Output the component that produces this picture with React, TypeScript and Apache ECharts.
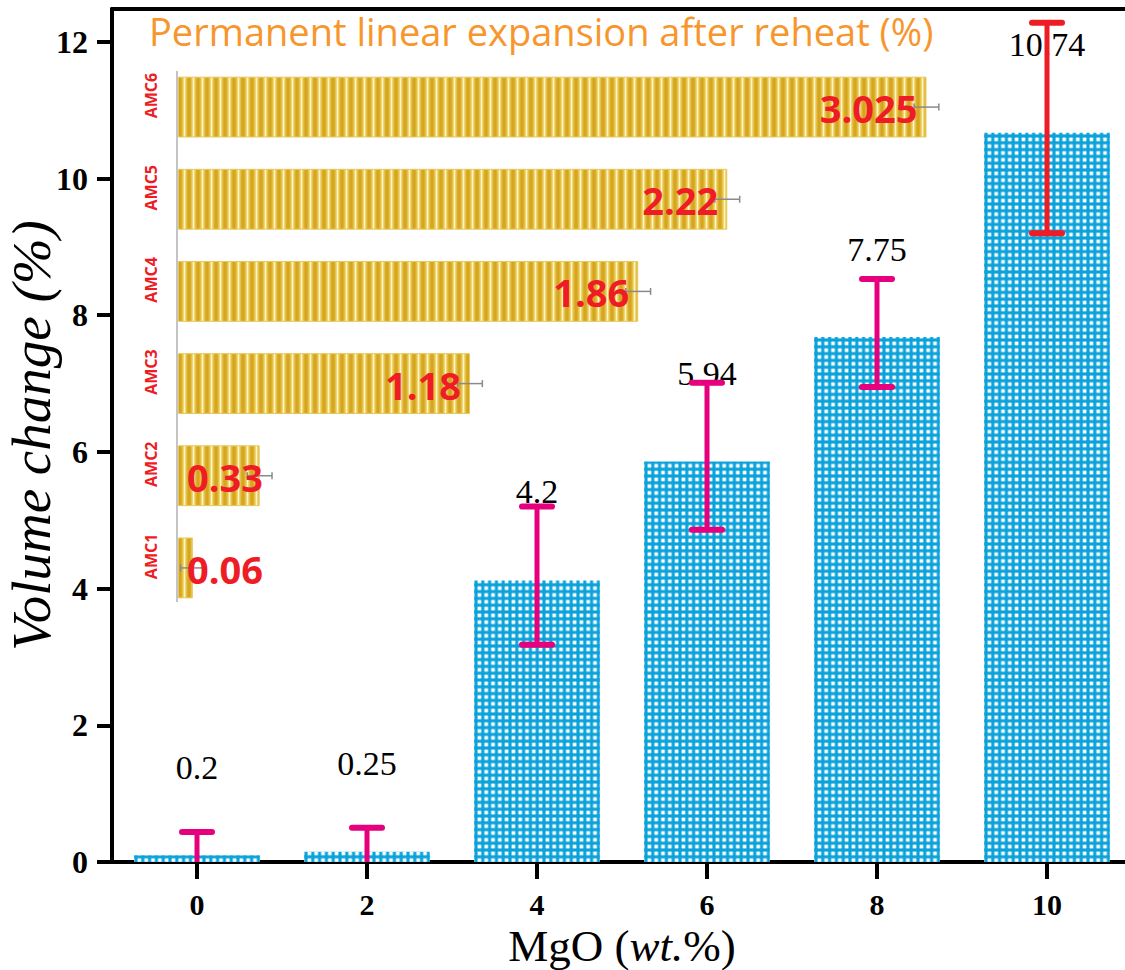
import React, { useEffect, useRef } from 'react';
import * as echarts from 'echarts';

// ---- Main chart data: volume change vs MgO content ----
const MGO_WT = ['0', '2', '4', '6', '8', '10'];
const VOLUME_CHANGE = [0.1, 0.15, 4.12, 5.86, 7.68, 10.67];
const VOLUME_LABELS = ['0.2', '0.25', '4.2', '5.94', '7.75', '10.74'];
const VOLUME_ERR_LOW = [0, 0, 3.18, 4.86, 6.95, 9.2];
const VOLUME_ERR_HIGH = [0.44, 0.5, 5.2, 7.01, 8.53, 12.28];
const VOLUME_LABEL_AT = [1.38, 1.44, 5.42, 7.14, 8.96, 11.96];
const Y_TICKS = [0, 2, 4, 6, 8, 10, 12];
const Y_MIN = 0;
const Y_MAX = 12.48;

// ---- Inset data: permanent linear expansion after reheat ----
const SAMPLES = ['AMC1', 'AMC2', 'AMC3', 'AMC4', 'AMC5', 'AMC6'];
const PLE = [0.06, 0.33, 1.18, 1.86, 2.22, 3.025];
const PLE_ERR = [0.05, 0.05, 0.05, 0.05, 0.05, 0.05];
const INSET_TITLE = 'Permanent linear expansion after reheat (%)';

const SERIF = '"Liberation Serif", "Times New Roman", serif';
const SANS = '"Open Sans", "Noto Sans", sans-serif';

const svgUrl = (s: string) => 'data:image/svg+xml;charset=utf-8,' + encodeURIComponent(s);

const bluePattern: any = {
  image: svgUrl(
    '<svg xmlns="http://www.w3.org/2000/svg" width="7" height="7" viewBox="0 0 7 7">' +
      '<rect width="7" height="7" fill="#0AA2DA"/>' +
      '<rect x="1.6" y="1.6" width="3.8" height="3.8" fill="#ffffff"/>' +
      '</svg>'
  ),
  repeat: 'repeat',
  imageWidth: 6.8,
  imageHeight: 6.8,
};

const goldPattern: any = {
  image: svgUrl(
    '<svg xmlns="http://www.w3.org/2000/svg" width="9" height="9" viewBox="0 0 9 9">' +
      '<defs><linearGradient id="g" x1="0" x2="1" y1="0" y2="0">' +
      '<stop offset="0" stop-color="#D2A11E"/>' +
      '<stop offset="0.2" stop-color="#DDB22C"/>' +
      '<stop offset="0.4" stop-color="#F1D977"/>' +
      '<stop offset="0.5" stop-color="#FDF6CC"/>' +
      '<stop offset="0.6" stop-color="#F1D977"/>' +
      '<stop offset="0.8" stop-color="#DDB22C"/>' +
      '<stop offset="1" stop-color="#D2A11E"/>' +
      '</linearGradient></defs>' +
      '<rect width="9" height="9" fill="url(#g)"/>' +
      '</svg>'
  ),
  repeat: 'repeat',
  imageWidth: 9,
  imageHeight: 9,
};

function buildOption(): any {
  const lastIdx = MGO_WT.length - 1;
  return {
    animation: false,
    backgroundColor: '#ffffff',
    title: {
      text: INSET_TITLE,
      left: 144,
      top: 7,
      textStyle: { fontFamily: SANS, fontSize: 38, fontWeight: 'normal', color: '#F7962D' },
    },
    grid: [
      { left: 112, top: 9, width: 1020, height: 853, containLabel: false, outerBoundsMode: 'none' },
      { left: 178, top: 61, width: 866, height: 553, containLabel: false, outerBoundsMode: 'none' },
    ],
    xAxis: [
      {
        type: 'category',
        gridIndex: 0,
        data: MGO_WT,
        position: 'bottom',
        axisLine: { show: true, lineStyle: { color: '#000', width: 4 } },
        axisTick: { show: true, alignWithLabel: true, length: 17, lineStyle: { color: '#000', width: 4 } },
        axisLabel: { fontFamily: SERIF, fontSize: 30, fontWeight: 'bold', color: '#000', margin: 27 },
        name: '{n|MgO (}{i|wt.}{n|%)}',
        nameLocation: 'middle',
        nameGap: 42,
        nameTextStyle: {
          rich: {
            n: { fontFamily: SERIF, fontSize: 45, color: '#000' },
            i: { fontFamily: SERIF, fontSize: 45, fontStyle: 'italic', color: '#000' },
          },
        },
        splitLine: { show: false },
      },
      {
        type: 'category',
        gridIndex: 0,
        data: MGO_WT,
        position: 'top',
        axisLine: { show: true, lineStyle: { color: '#000', width: 4 } },
        axisTick: { show: false },
        axisLabel: { show: false },
        splitLine: { show: false },
      },
      {
        type: 'value',
        gridIndex: 1,
        min: 0,
        max: 3.5,
        show: false,
      },
    ],
    yAxis: [
      {
        type: 'value',
        gridIndex: 0,
        min: Y_MIN,
        max: Y_MAX,
        axisLine: { show: true, lineStyle: { color: '#000', width: 4 } },
        axisTick: { show: true, length: 15, customValues: Y_TICKS, lineStyle: { color: '#000', width: 4 } },
        axisLabel: { fontFamily: SERIF, fontSize: 32, fontWeight: 'bold', color: '#000', margin: 24, customValues: Y_TICKS },
        splitLine: { show: false },
        name: 'Volume change (%)',
        nameLocation: 'middle',
        nameRotate: 90,
        nameGap: 53,
        nameMoveOverlap: false,
        nameTextStyle: { fontFamily: SERIF, fontSize: 55, fontStyle: 'italic', color: '#000' },
      },
      {
        type: 'category',
        gridIndex: 1,
        data: SAMPLES,
        axisLine: { show: false },
        axisTick: { show: false },
        splitLine: { show: false },
        axisLabel: {
          rotate: 90,
          fontFamily: SANS,
          fontWeight: 'bold',
          fontSize: 16,
          color: '#EE1C25',
          margin: 19,
          padding: [0, 0, 0, 23],
        },
      },
    ],
    graphic: [
      {
        type: 'line',
        z: 5,
        shape: { x1: 177, y1: 71, x2: 177, y2: 602 },
        style: { stroke: '#C4C4C4', lineWidth: 2 },
      },
    ],
    series: [
      {
        type: 'bar',
        xAxisIndex: 0,
        yAxisIndex: 0,
        data: VOLUME_CHANGE,
        barWidth: '74%',
        itemStyle: { color: bluePattern },
        z: 2,
      },
      {
        type: 'custom',
        xAxisIndex: 0,
        yAxisIndex: 0,
        z: 3,
        data: VOLUME_ERR_LOW.map((lo, i) => [i, lo, VOLUME_ERR_HIGH[i], VOLUME_LABEL_AT[i]]),
        encode: { x: 0, y: [1, 2, 3] },
        renderItem: (params: any, api: any) => {
          const i = api.value(0);
          const lo = api.value(1);
          const hi = api.value(2);
          const at = api.value(3);
          const pHi = api.coord([i, hi]);
          const pLo = api.coord([i, lo]);
          const pAt = api.coord([i, at]);
          const color = i === lastIdx ? '#EE1C25' : '#E6007E';
          const cap = 15;
          const children: any[] = [
            {
              type: 'text',
              style: {
                text: VOLUME_LABELS[i],
                x: pAt[0],
                y: pAt[1],
                align: 'center',
                verticalAlign: 'middle',
                fontFamily: SERIF,
                fontSize: 34,
                fill: '#000',
              },
            },
            {
              type: 'line',
              shape: { x1: pHi[0], y1: pHi[1], x2: pLo[0], y2: pLo[1] },
              style: { stroke: color, lineWidth: 5 },
            },
            {
              type: 'line',
              shape: { x1: pHi[0] - cap, y1: pHi[1], x2: pHi[0] + cap, y2: pHi[1] },
              style: { stroke: color, lineWidth: 6, lineCap: 'round' },
            },
          ];
          if (lo > 0) {
            children.push({
              type: 'line',
              shape: { x1: pLo[0] - cap, y1: pLo[1], x2: pLo[0] + cap, y2: pLo[1] },
              style: { stroke: color, lineWidth: 6, lineCap: 'round' },
            });
          }
          return { type: 'group', children };
        },
      },
      {
        type: 'bar',
        xAxisIndex: 2,
        yAxisIndex: 1,
        data: PLE,
        barWidth: '66%',
        itemStyle: { color: goldPattern, borderColor: '#E8C75C', borderWidth: 1 },
        z: 4,
      },
      {
        type: 'custom',
        xAxisIndex: 2,
        yAxisIndex: 1,
        z: 6,
        data: PLE.map((v, i) => [v, i, PLE_ERR[i]]),
        encode: { x: 0, y: 1 },
        renderItem: (params: any, api: any) => {
          const v = api.value(0);
          const i = api.value(1);
          const e = api.value(2);
          const p0 = api.coord([0, i]);
          const pV = api.coord([v, i]);
          const pL = api.coord([Math.max(0, v - e), i]);
          const pR = api.coord([v + e, i]);
          const fits = pV[0] - p0[0] > 110;
          const gray = '#8A8A8A';
          return {
            type: 'group',
            children: [
              {
                type: 'line',
                shape: { x1: pL[0], y1: pV[1], x2: pR[0], y2: pV[1] },
                style: { stroke: gray, lineWidth: 1.5 },
              },
              {
                type: 'line',
                shape: { x1: pL[0], y1: pV[1] - 3.5, x2: pL[0], y2: pV[1] + 3.5 },
                style: { stroke: gray, lineWidth: 1.5 },
              },
              {
                type: 'line',
                shape: { x1: pR[0], y1: pV[1] - 3.5, x2: pR[0], y2: pV[1] + 3.5 },
                style: { stroke: gray, lineWidth: 1.5 },
              },
              {
                type: 'text',
                style: {
                  text: String(PLE[i]),
                  x: fits ? pV[0] - 9 : p0[0] + 9,
                  y: pV[1] + 1,
                  align: fits ? 'right' : 'left',
                  verticalAlign: 'middle',
                  fontFamily: SANS,
                  fontWeight: 'bold',
                  fontSize: 38,
                  fill: '#EE1C25',
                },
              },
            ],
          };
        },
      },
    ],
  };
}

export default function App() {
  const ref = useRef<HTMLDivElement>(null);
  useEffect(() => {
    if (!ref.current) return;
    const chart = echarts.init(ref.current, null, { renderer: 'svg' });
    chart.setOption(buildOption());
    return () => chart.dispose();
  }, []);
  return (
    <div
      ref={ref}
      style={{ position: 'absolute', left: 0, top: 0, width: 1125, height: 970, background: '#fff' }}
    />
  );
}
